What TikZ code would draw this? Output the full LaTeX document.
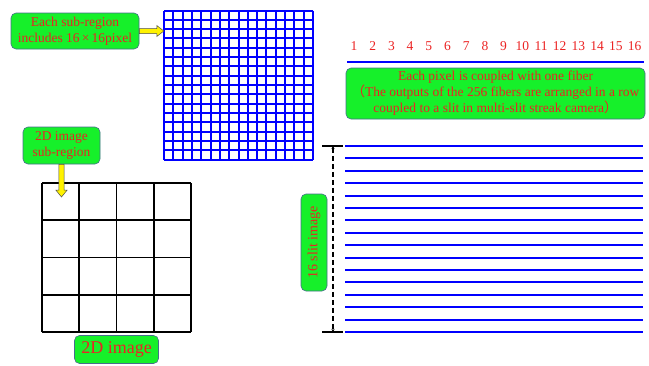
\documentclass[tikz,border=0pt]{standalone}
\usepackage{fontspec}
\setmainfont{Liberation Serif}
\newfontfamily\cjk{Noto Sans CJK SC}
\usetikzlibrary{arrows.meta,calc,positioning}
\definecolor{boxgreen}{RGB}{22,240,42}
\definecolor{boxedge}{RGB}{70,110,140}
\definecolor{txtred}{RGB}{235,35,35}

\begin{document}
\begin{tikzpicture}[x=1pt, y=-1pt, every node/.style={font=\fontsize{13.5}{16}\selectfont, text=txtred},
	gbox/.style={fill=boxgreen, draw=boxedge, line width=0.6pt, rounded corners=5pt, align=center, inner sep=2pt},
	yarrow/.style={fill=yellow, draw=black!70, line width=0.5pt},
	pix/.style={blue, line width=2pt},
	slit/.style={blue, line width=1.8pt}]
	\useasboundingbox (0,0) rectangle (649,365);
	% 16x16 pixels of one sub-region
	\node[minimum size=149pt, inner sep=0pt] (pixgrid) at (238.5,85) {};
	\foreach \i in {0,...,16} {
		\draw[pix] (164+\i*9.3125,10.5) -- (164+\i*9.3125,159.5);
		\draw[pix] (164,10.5+\i*9.3125) -- (313,10.5+\i*9.3125);
	}
	\node[gbox, minimum width=128pt, minimum height=36pt] (sub) at (75,31) {Each sub-region\\includes 16\,×\,16pixel};
	\draw[yarrow] ($(sub.east)+(0,-2.5)$) -- ($(sub.east -| pixgrid.west)+(-7,-2.5)$) -- ++(0,-3) -- (sub.east -| pixgrid.west) -- ++(-7,5.5) -- ++(0,-3) -- ($(sub.east)+(0,2.5)$) -- cycle;
	% 2D image of 4x4 sub-regions
	\node[minimum size=149pt, inner sep=0pt] (img) at (116.5,257.5) {};
	\foreach \i in {0,...,4} {
		\draw[black, line width=1.6pt] (42+\i*37.25,183) -- (42+\i*37.25,332);
		\draw[black, line width=1.6pt] (42,183+\i*37.25) -- (191,183+\i*37.25);
	}
	\node[gbox, minimum width=77pt, minimum height=37pt] (subreg) at (61.5,145.5) {2D image\\sub-region};
	\coordinate (cellmark) at (61.5,197);
	\draw[yarrow] ($(subreg.south)+(-2.7,0)$) -- ($(cellmark)+(-2.7,-7)$) -- ++(-3,0) -- (cellmark) -- ++(5.7,-7) -- ++(-3,0) -- ($(subreg.south)+(2.7,0)$) -- cycle;
	\node[gbox, font=\fontsize{18}{20}\selectfont, minimum width=84pt, minimum height=28pt, below=3pt of img] (imglab) {2D image};
	% fiber numbers and arrangement
	\foreach \n in {1,...,16} {\node (num\n) at (354+\n*18.7-18.7,46) {\n};}
	\draw[blue, line width=1.8pt] (347,62) -- (644,62);
	\node[gbox, minimum width=299pt, minimum height=51pt] (fiber) at (495.5,93.5) {Each pixel is coupled with one fiber\\{\cjk （}The outputs of the 256 fibers are arranged in a row\\coupled to a slit in multi-slit streak camera{\cjk ）}};
	% 16 slit images
	\foreach \k in {0,...,15} {\draw[slit] (345,{round(146+\k*12.4)}) -- (643,{round(146+\k*12.4)});}
	\coordinate (dtop) at (333,146);
	\coordinate (dbot) at (333,332);
	\draw[black, line width=1.2pt] ($(dtop)+(-11,0)$) -- ($(dtop)+(10,0)$);
	\draw[black, line width=1.2pt] ($(dbot)+(-11,0)$) -- ($(dbot)+(10,0)$);
	\draw[black, line width=1.2pt, dash pattern=on 5pt off 3pt, {Stealth[length=3pt,width=3pt]}-{Stealth[length=3pt,width=3pt]}] (dtop) -- (dbot);
	\node[gbox, rotate=90, font=\fontsize{14}{16}\selectfont, minimum width=97pt, minimum height=26pt] (slitlab) at (314,242.5) {16 slit image};
\end{tikzpicture}
\end{document}
